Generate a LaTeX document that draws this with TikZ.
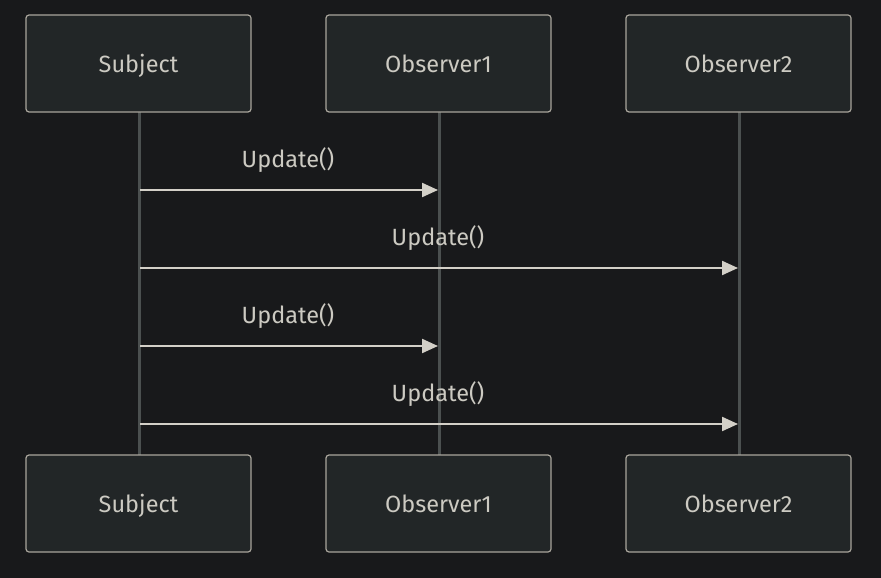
\documentclass[tikz,border=0pt]{standalone}
\usepackage{fontspec}
\setmainfont{Fira Sans}
\usetikzlibrary{arrows.meta}
\definecolor{bgcol}{HTML}{18191B}
\definecolor{boxfill}{HTML}{222627}
\definecolor{boxline}{HTML}{A9A59C}
\definecolor{txtcol}{HTML}{CCCAC2}
\definecolor{msgcol}{HTML}{D3D0C8}
\definecolor{lifecol}{HTML}{4B5050}
\tikzset{
  actor/.style={draw=boxline, fill=boxfill, line width=1.2pt, rounded corners=3pt,
    minimum width=225pt, minimum height=97pt, text=txtcol, font=\fontsize{23.5}{28}\selectfont,
    text height=18pt, text depth=0pt},
  lifeline/.style={draw=lifecol, line width=3pt},
  msg/.style={draw=msgcol, line width=2.2pt, -{Triangle[length=16pt,width=14pt]}},
  msglabel/.style={text=txtcol, font=\fontsize{23.5}{28}\selectfont, text height=18pt, text depth=0pt}
}
\begin{document}
\begin{tikzpicture}[x=1pt,y=-1pt]
    \fill[bgcol] (0,0) rectangle (881,578);
    \useasboundingbox (0,0) rectangle (881,578);
    % lifelines
    \coordinate (st) at (139,112);
    \coordinate (sb) at (139,455);
    \coordinate (at) at (439,112);
    \coordinate (ab) at (439,455);
    \coordinate (bt) at (739,112);
    \coordinate (bb) at (739,455);
    \draw[lifeline] (st) -- (sb);
    \draw[lifeline] (at) -- (ab);
    \draw[lifeline] (bt) -- (bb);
    % actors
    \node[actor] (subjtop) at (138.5,63.5) {Subject};
    \node[actor] (obsatop) at (438.5,63.5) {Observer1};
    \node[actor] (obsbtop) at (738.5,63.5) {Observer2};
    \node[actor] (subjbot) at (138.5,503.5) {Subject};
    \node[actor] (obsabot) at (438.5,503.5) {Observer1};
    \node[actor] (obsbbot) at (738.5,503.5) {Observer2};
    % messages
    \coordinate (m1s) at (140,190);
    \coordinate (m1e) at (438,190);
    \coordinate (m2s) at (140,268);
    \coordinate (m2e) at (738,268);
    \coordinate (m3s) at (140,346);
    \coordinate (m3e) at (438,346);
    \coordinate (m4s) at (140,424);
    \coordinate (m4e) at (738,424);
    \draw[msg] (m1s) -- (m1e);
    \draw[msg] (m2s) -- (m2e);
    \draw[msg] (m3s) -- (m3e);
    \draw[msg] (m4s) -- (m4e);
    \node[msglabel] (l1) at (288,158) {Update()};
    \node[msglabel] (l2) at (438,236) {Update()};
    \node[msglabel] (l3) at (288,314) {Update()};
    \node[msglabel] (l4) at (438,392) {Update()};
\end{tikzpicture}
\end{document}
